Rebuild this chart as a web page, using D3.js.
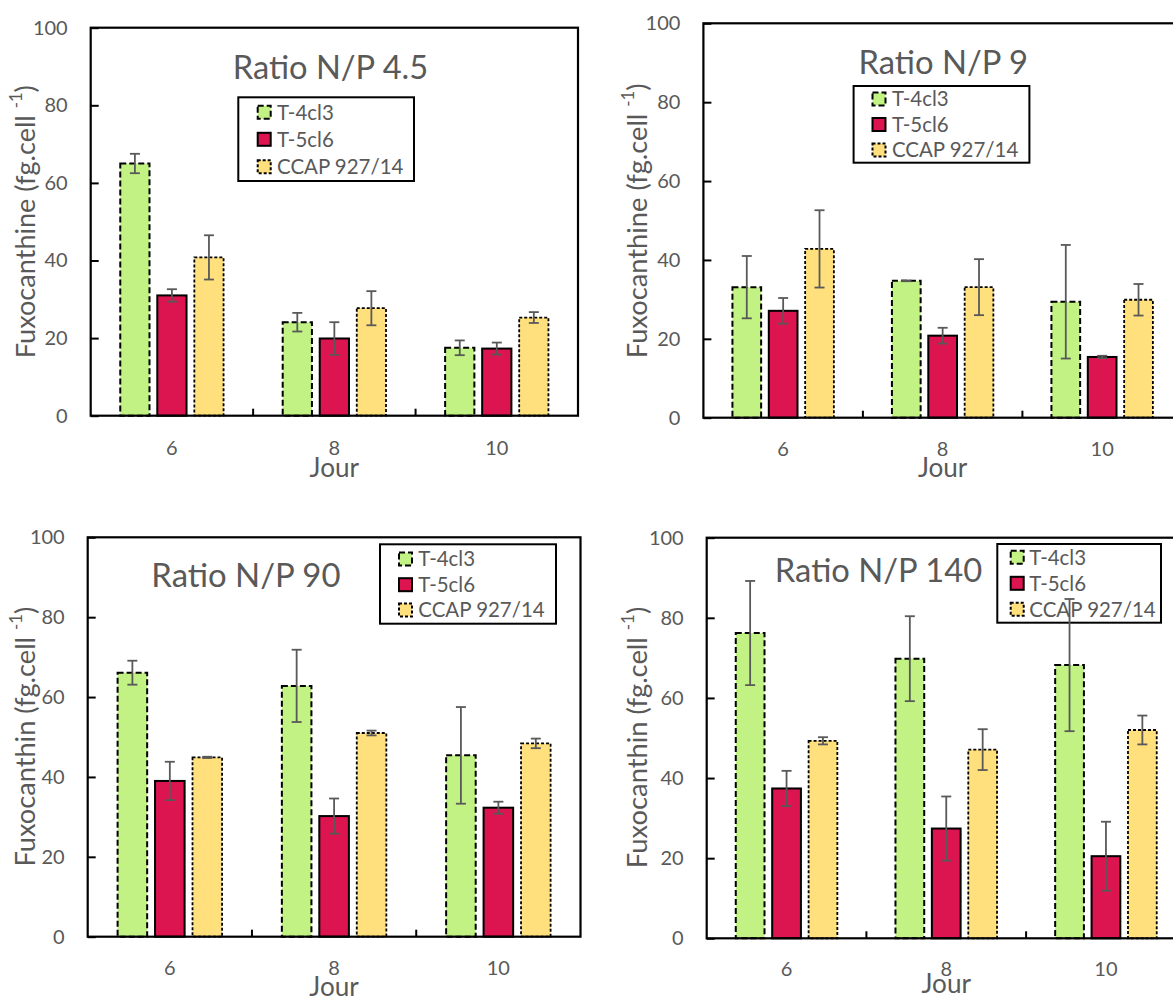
<!DOCTYPE html>
<html>
<head>
<meta charset="utf-8">
<script src="https://cdn.jsdelivr.net/npm/d3@7"></script>
<style>
  html, body { margin: 0; padding: 0; background: #ffffff; }
  svg { display: block; }
  text { font-family: Lato, "Open Sans", sans-serif; fill: #595959; }
</style>
</head>
<body>
<svg id="chart" width="1173" height="999"></svg>
<script>
// ---------------- DATA ----------------
const days = ["6", "8", "10"];
const strains = ["T-4cl3", "T-5cl6", "CCAP 927/14"];
const yTicks = [0, 20, 40, 60, 80, 100];
const panelTitles = ["Ratio N/P 4.5", "Ratio N/P 9", "Ratio N/P 90", "Ratio N/P 140"];
const yAxisNames = ["Fuxocanthine", "Fuxocanthine", "Fuxocanthin", "Fuxocanthin"];
const xAxisName = "Jour";
const yUnit = "(fg.cell ";
const yUnitExp = "-1";

// means: rows = strains (T-4cl3, T-5cl6, CCAP 927/14), columns = days (6, 8, 10)
const np4_5_mean = [[65.0, 24.1, 17.5], [31.0, 19.9, 17.3], [40.8, 27.7, 25.3]];
const np4_5_err  = [[2.5, 2.4, 1.9], [1.6, 4.2, 1.55], [5.7, 4.4, 1.4]];
const np9_mean   = [[33.1, 34.7, 29.4], [27.1, 20.8, 15.4], [42.8, 33.1, 29.9]];
const np9_err    = [[7.9, 0.1, 14.4], [3.25, 2.0, 0.3], [9.8, 7.1, 4.0]];
const np90_mean  = [[66.1, 62.8, 45.4], [39.0, 30.2, 32.3], [44.9, 51.0, 48.4]];
const np90_err   = [[3.0, 9.05, 12.1], [4.8, 4.4, 1.5], [0.15, 0.6, 1.2]];
const np140_mean = [[76.2, 69.8, 68.2], [37.4, 27.4, 20.5], [49.3, 47.1, 52.0]];
const np140_err  = [[13.0, 10.6, 16.5], [4.4, 8.0, 8.6], [0.9, 5.1, 3.6]];

const panelMeans = [np4_5_mean, np9_mean, np90_mean, np140_mean];
const panelErrs = [np4_5_err, np9_err, np90_err, np140_err];

// ---------------- STYLE / LAYOUT ----------------
const fills = ["#C1F283", "#DC1450", "#FFE07C"];
const dashes = ["6,3", null, "3,2"];
const strokeW = [2, 2, 1.8];
const textColor = "#595959";

const layout = [
  { left: 90.7, right: 578, top: 27.7, zero: 415.7,
    title: { cx: 330.5, y: 79.3, w: 195.6 },
    legend: { x: 238.3, y: 97.3, w: 175.7, h: 83.7, rows: [112.3, 139.3, 166.7], sw: 257.7, tx: 277 },
    ylab: { x: 34.5, cy: 221.7, w: 273.3 }, jourY: 477, tickPad: 25 },
  { left: 703.4, right: 1181.9, top: 23.3, zero: 417.7,
    title: { cx: 943.2, y: 74, w: 169.6 },
    legend: { x: 853.6, y: 86, w: 175.8, h: 76.7, rows: [99, 124.5, 150], sw: 872.5, tx: 891.9 },
    ylab: { x: 646.5, cy: 220.8, w: 275 }, jourY: 476.7, tickPad: 24 },
  { left: 87.7, right: 580.5, top: 537.3, zero: 936.7,
    title: { cx: 245.9, y: 587.3, w: 189.3 },
    legend: { x: 380, y: 544.3, w: 176, h: 79.4, rows: [559, 584.7, 610], sw: 399, tx: 418.3 },
    ylab: { x: 34.6, cy: 736.7, w: 260 }, jourY: 996, tickPad: 24 },
  { left: 706.7, right: 1185.8, top: 537.7, zero: 938.3,
    title: { cx: 878.5, y: 581.7, w: 207.4 },
    legend: { x: 997.3, y: 544, w: 163.7, h: 78.7, rows: [557.3, 583.3, 609.3], sw: 1010.7, tx: 1029.3 },
    ylab: { x: 646.5, cy: 737.5, w: 261.6 }, jourY: 993, tickPad: 24 }
];

const svg = d3.select("#chart");

function fit(sel, target) {
  const base = parseFloat(sel.attr("font-size"));
  const len = sel.node().getComputedTextLength();
  if (len > 0) sel.attr("font-size", base * target / len);
  return sel;
}

// Legend font size (common), fitted to "CCAP 927/14" width
const probe = svg.append("text").attr("font-size", 20).text(strains[2]);
fit(probe, 126.5);
const legendFont = parseFloat(probe.attr("font-size"));
probe.remove();

// "Jour" font size
const probe2 = svg.append("text").attr("font-size", 20).text(xAxisName);
fit(probe2, 49.5);
const jourFont = parseFloat(probe2.attr("font-size"));
probe2.remove();

const barRatio = 0.18, stepRatio = 0.228;

layout.forEach((L, p) => {
  const g = svg.append("g");
  const means = panelMeans[p], errs = panelErrs[p];

  const y = d3.scaleLinear().domain([0, 100]).range([L.zero, L.top]);
  const x = d3.scaleBand().domain(days).range([L.left, L.right]).padding(0);
  const bw = x.bandwidth();
  const step = bw * stepRatio;
  const pIn = 1 - barRatio / stepRatio;
  const xs = d3.scaleBand().domain(strains).range([-1.5 * step, 1.5 * step])
    .paddingInner(pIn).paddingOuter(pIn / 2);

  // bars
  strains.forEach((s, si) => {
    g.append("g").selectAll("rect")
      .data(days.map((d, di) => ({ d, v: means[si][di], e: errs[si][di] })))
      .join("rect")
      .attr("x", q => x(q.d) + bw / 2 + xs(s))
      .attr("width", xs.bandwidth())
      .attr("y", q => y(q.v))
      .attr("height", q => y(0) - y(q.v))
      .attr("fill", fills[si])
      .attr("stroke", "#000")
      .attr("stroke-width", strokeW[si])
      .attr("stroke-dasharray", dashes[si]);
  });

  // y axis (ticks inward)
  const yAxis = d3.axisLeft(y).tickValues(yTicks).tickSize(-8).tickPadding(23).tickFormat(d3.format("d"));
  const ya = g.append("g").attr("transform", `translate(${L.left},0)`).call(yAxis);
  ya.select(".domain").remove();
  ya.selectAll("line").attr("stroke", "#000").attr("stroke-width", 2);
  ya.selectAll("text").attr("font-size", 20).attr("fill", textColor)
    .style("font-family", "Lato, 'Open Sans', sans-serif");

  // x axis labels
  const xAxis = d3.axisBottom(x).tickSize(0).tickPadding(L.tickPad);
  const xa = g.append("g").attr("transform", `translate(0,${L.zero})`).call(xAxis);
  xa.select(".domain").remove();
  xa.selectAll("text").attr("font-size", 20).attr("fill", textColor)
    .style("font-family", "Lato, 'Open Sans', sans-serif");

  // category separators (inward ticks)
  g.append("g").selectAll("line")
    .data(days.slice(1))
    .join("line")
    .attr("x1", d => x(d)).attr("x2", d => x(d))
    .attr("y1", L.zero).attr("y2", L.zero - 7)
    .attr("stroke", "#000").attr("stroke-width", 2);

  // frame
  g.append("rect")
    .attr("x", L.left).attr("y", L.top)
    .attr("width", L.right - L.left).attr("height", L.zero - L.top)
    .attr("fill", "none").attr("stroke", "#000").attr("stroke-width", 2.2);

  // title
  const t = g.append("text")
    .attr("x", L.title.cx).attr("y", L.title.y)
    .attr("text-anchor", "middle")
    .attr("font-size", 30)
    .text(panelTitles[p]);
  fit(t, L.title.w);

  // y axis title
  const yl = g.append("text")
    .attr("transform", `translate(${L.ylab.x},${L.ylab.cy}) rotate(-90)`)
    .attr("text-anchor", "middle")
    .attr("font-size", 24);
  yl.append("tspan").text(yAxisNames[p] + " " + yUnit);
  yl.append("tspan").attr("font-size", "0.62em").attr("dy", "-0.75em").text(yUnitExp);
  yl.append("tspan").attr("dy", "0.465em").text(")");
  fit(yl, L.ylab.w);

  // x axis title
  g.append("text")
    .attr("x", (L.left + L.right) / 2).attr("y", L.jourY)
    .attr("text-anchor", "middle")
    .attr("font-size", jourFont)
    .text(xAxisName);

  // legend
  const lg = g.append("g");
  lg.append("rect")
    .attr("x", L.legend.x).attr("y", L.legend.y)
    .attr("width", L.legend.w).attr("height", L.legend.h)
    .attr("fill", "#fff").attr("stroke", "#000").attr("stroke-width", 2);
  strains.forEach((s, si) => {
    const cy = L.legend.rows[si];
    lg.append("rect")
      .attr("x", L.legend.sw).attr("y", cy - 6.5)
      .attr("width", 13).attr("height", 13)
      .attr("fill", fills[si]).attr("stroke", "#000")
      .attr("stroke-width", 2)
      .attr("stroke-dasharray", dashes[si]);
    lg.append("text")
      .attr("x", L.legend.tx).attr("y", cy)
      .attr("dy", "0.36em")
      .attr("font-size", legendFont)
      .text(s);
  });

  // error bars (drawn on top)
  const eg = g.append("g").attr("stroke", "#595959").attr("stroke-width", 1.8).attr("fill", "none");
  strains.forEach((s, si) => {
    days.forEach((d, di) => {
      const cx = x(d) + bw / 2 + xs(s) + xs.bandwidth() / 2;
      const m = means[si][di], e = errs[si][di];
      const y1 = y(m + e), y2 = y(m - e);
      eg.append("line").attr("x1", cx).attr("x2", cx).attr("y1", y1).attr("y2", y2);
      eg.append("line").attr("x1", cx - 5).attr("x2", cx + 5).attr("y1", y1).attr("y2", y1);
      eg.append("line").attr("x1", cx - 5).attr("x2", cx + 5).attr("y1", y2).attr("y2", y2);
    });
  });
});
</script>
</body>
</html>
